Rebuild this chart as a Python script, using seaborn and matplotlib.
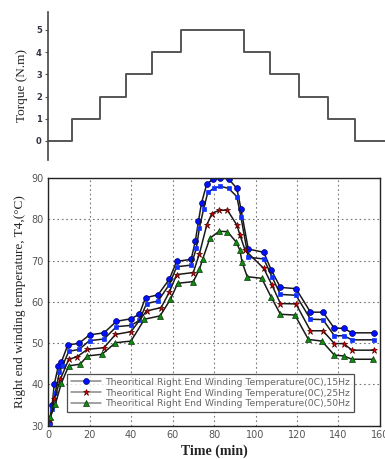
import matplotlib
matplotlib.use("Agg")
import matplotlib.pyplot as plt
import seaborn as sns

# ---- data ----
torque_time = [0, 11.5, 25, 37.5, 50, 64, 94.5, 107, 121, 135, 148, 162.4]
torque_val = [0, 1, 2, 3, 4, 5, 4, 3, 2, 1, 0, 0]

t15 = [0.5, 2, 3, 5, 6.5, 9.5, 15, 20, 27, 33, 40, 44, 47, 53, 58.5, 62, 69, 71, 72.5, 74,
       76.5, 79.5, 83, 87, 91, 93, 96.5, 104, 107.5, 112, 119.5, 126.5, 132.5, 138, 142.5, 146.5, 157]
T15 = [30.5, 35, 40, 44.5, 45.5, 49.5, 50, 52, 52.5, 55.3, 55.9, 57, 61, 61.7, 65.5, 69.8, 70.3, 74.7, 79.5, 84,
       88.5, 89.7, 90, 89.8, 87.5, 82.5, 72.8, 72, 67.8, 63.5, 63.2, 57.5, 57.5, 53.6, 53.6, 52.5, 52.5]

t15b = [0.5, 2, 3.5, 5.5, 7, 10, 15, 20, 27, 33, 40, 44, 47.5, 53, 58.5, 62, 69, 71.5, 73, 75,
        77, 80, 83, 87, 91, 93, 96.5, 104, 108, 112, 119.5, 126.5, 132.5, 138, 142.5, 146.5, 157]
T15b = [30.3, 34, 38, 43, 44.5, 48, 48.5, 50.6, 51, 54, 54.3, 55.5, 59.6, 60.2, 64.2, 68.5, 68.9, 73, 78, 82.5,
        86.5, 87.5, 88, 87.5, 85.5, 80.5, 70.8, 70.4, 66, 61.8, 61.6, 55.8, 55.7, 51.8, 51.8, 50.8, 50.8]

t25 = [1, 3, 6, 10, 14, 19, 27, 32.5, 40, 47.5, 54.5, 58.5, 62, 70, 73, 76.5, 79, 82.5, 86.5,
       91, 92.5, 95, 104, 108, 112, 119.5, 126.5, 132.5, 138, 142.5, 146.5, 157]
T25 = [31.4, 36.4, 41.3, 46.1, 46.7, 48.5, 48.9, 52.1, 52.8, 57.8, 58.6, 62.4, 66.6, 67.1, 71.7, 78.6, 81.4, 82.2, 82.2,
       78.6, 76.2, 72.5, 68.1, 64, 59.6, 59.5, 53, 53, 49.9, 49.9, 48.3, 48.3]

t50 = [1, 3.5, 6.5, 10, 15.5, 19, 26, 32.5, 40, 46.5, 54, 59, 62.5, 70, 73, 74.5, 78, 82.5, 86.5,
       90.5, 92.5, 93.5, 96, 103, 107.5, 112, 119, 125.5, 132, 138, 142.5, 146.5, 156.5]
T50 = [32, 35.2, 40.4, 44.5, 44.9, 46.9, 47.3, 50.1, 50.5, 55.8, 56.6, 60.6, 64.5, 64.9, 67.9, 70.3, 75.4, 77.1, 77,
       74.6, 72.5, 69.7, 66.1, 65.7, 61.2, 57, 56.8, 50.9, 50.5, 47.1, 46.9, 46.1, 46.1]

labels = ["Theoritical Right End Winding Temperature(0C),15Hz",
          "Theoritical Right End Winding Temperature(0C),25Hz",
          "Theoritical Right End Winding Temperature(0C),50Hz"]

sns.set_theme(style="white")
plt.rcParams["font.family"] = ["DejaVu Sans"]

fig = plt.figure(figsize=(3.85, 4.59), dpi=100)

# ---- top torque axes ----
ax1 = fig.add_axes([0.1247, 0.6514, 0.8753, 0.3226])
sns.lineplot(x=torque_time, y=torque_val, ax=ax1, drawstyle="steps-post",
             color="#555555", lw=1.4, estimator=None, sort=False)
ax1.set_xlim(0, 162.4)
ax1.set_ylim(-0.86, 5.81)
ax1.set_yticks([0, 1, 2, 3, 4, 5])
ax1.set_xticks([])
for s in ["top", "right", "bottom"]:
    ax1.spines[s].set_visible(False)
ax1.spines["left"].set_color("#444444")
ax1.spines["left"].set_linewidth(1.2)
ax1.tick_params(axis="y", left=True, length=2.5, width=0.8, color="#555555",
                labelsize=6, labelcolor="#333344", pad=2)
for lbl in ax1.get_yticklabels():
    lbl.set_fontweight("bold")
ax1.set_ylabel("Torque (N.m)", family="Liberation Serif", fontsize=9.5, labelpad=6)

# ---- bottom temperature axes ----
ax2 = fig.add_axes([0.1247, 0.0725, 0.8623, 0.5397])
line_kw = dict(color="#1a1a1a", lw=1.1, estimator=None, sort=False, markeredgewidth=0.5)
sns.lineplot(x=t15, y=T15, ax=ax2, marker="o", markersize=4.2, markerfacecolor="#0010ff",
             markeredgecolor="#000066", label=labels[0], **line_kw)
sns.lineplot(x=t15b, y=T15b, ax=ax2, marker="s", markersize=2.6, markerfacecolor="#1030ff",
             markeredgecolor="#1030ff", **line_kw)
sns.lineplot(x=t25, y=T25, ax=ax2, marker="*", markersize=5, markerfacecolor="#dd0000",
             markeredgecolor="#550000", label=labels[1], **line_kw)
sns.lineplot(x=t50, y=T50, ax=ax2, marker="^", markersize=4, markerfacecolor="#108a10",
             markeredgecolor="#0a3a0a", label=labels[2], **line_kw)

ax2.set_xlim(0, 160)
ax2.set_ylim(30, 90)
ax2.set_xticks(range(0, 161, 20))
ax2.set_yticks(range(30, 91, 10))
ax2.grid(True, linestyle=(0, (1.5, 2.5)), color="#777777", lw=0.8)
for s in ax2.spines.values():
    s.set_color("#222222")
    s.set_linewidth(1.0)
ax2.tick_params(axis="both", labelsize=7, labelcolor="#555555", length=0, pad=3)
ax2.set_xlabel("Time (min)", family="Liberation Serif", fontsize=10, fontweight="bold",
               color="#222222", labelpad=3)
ax2.set_ylabel("Right end winding temperature, T4,(°C)", family="Liberation Serif",
               fontsize=9.5, labelpad=4)

leg = ax2.legend(loc="lower left", bbox_to_anchor=(0.058, 0.055), fontsize=6.7,
                 frameon=True, fancybox=False, borderpad=0.4, labelspacing=0.2,
                 handlelength=3.2, handletextpad=0.5, borderaxespad=0)
leg.get_frame().set_edgecolor("#222222")
leg.get_frame().set_linewidth(0.9)
for txt in leg.get_texts():
    txt.set_color("#666666")
for h in leg.get_lines():
    h.set_color("#888888")

fig.savefig("out.png", dpi=100)
